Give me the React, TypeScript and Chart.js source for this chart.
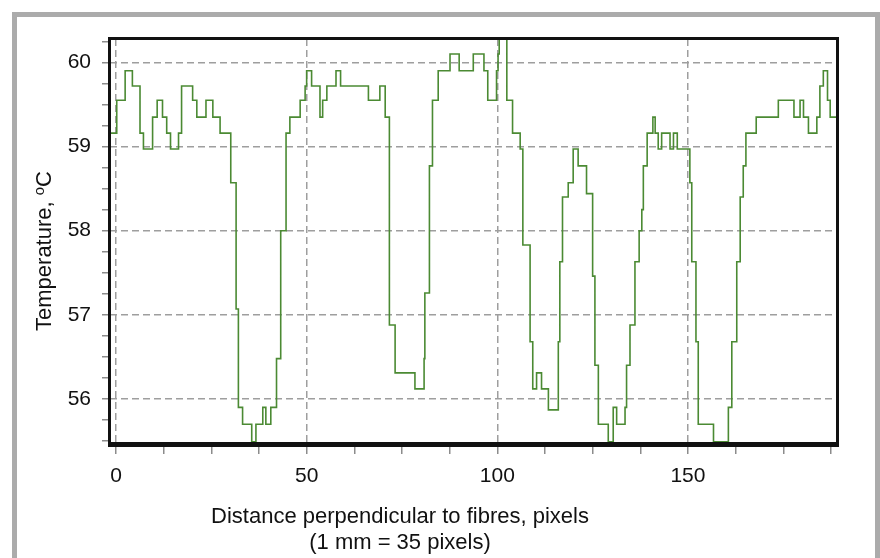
import React, { useEffect, useRef } from 'react';
import { Chart, registerables } from 'chart.js';

Chart.register(...registerables);

// Change points of the stepped temperature profile (distance in pixels, temperature in °C)
const DISTANCE = [
  -1.6, 0.2, 2.4, 4.3, 6.3, 7.2, 9.6, 10.8, 12.2, 13.3, 14.3, 16.4, 17.2, 20.1, 21.2, 23.6, 25.4, 27.3,
  30.1, 31.5, 32.1, 33.2, 35.6, 36.7, 38.5, 39.3, 40.6, 42.1, 43.2, 44.6, 45.6, 48.3, 49.6, 50.0, 51.3,
  53.5, 54.2, 55.3, 57.7, 58.9, 66.2, 69.2, 70.6, 71.7, 73.2, 78.4, 80.8, 81.0, 82.2, 83.0, 84.5, 87.6,
  90.0, 93.7, 96.5, 97.5, 99.8, 100.2, 100.5, 102.5, 104.0, 106.0, 106.7, 108.6, 109.3, 110.3, 111.6,
  113.4, 116.0, 116.4, 117.1, 118.6, 119.9, 121.2, 123.4, 125.0, 125.6, 126.5, 129.1, 130.4, 131.3,
  133.5, 133.9, 134.8, 136.1, 137.2, 137.9, 138.3, 139.3, 140.8, 141.4, 142.2, 143.1, 145.3, 146.2,
  147.2, 150.5, 151.0, 152.1, 152.7, 156.7, 160.6, 161.5, 162.8, 163.7, 164.5, 165.2, 167.9, 173.7,
  177.8, 179.4, 180.3, 181.6, 183.8, 184.6, 185.5, 186.6, 187.3, 189.4,
];
const TEMPERATURE = [
  59.16, 59.55, 59.9, 59.72, 59.16, 58.97, 59.35, 59.55, 59.35, 59.16, 58.97, 59.16, 59.72, 59.55, 59.35, 59.55, 59.35, 59.16,
  58.57, 57.07, 55.9, 55.7, 55.49, 55.7, 55.9, 55.7, 55.9, 56.48, 58.0, 59.16, 59.35, 59.55, 59.72, 59.9, 59.72,
  59.35, 59.55, 59.72, 59.9, 59.72, 59.55, 59.72, 59.35, 56.88, 56.31, 56.12, 56.48, 57.26, 58.77, 59.55, 59.9, 60.1,
  59.9, 60.1, 59.9, 59.55, 59.9, 60.1, 60.28, 59.55, 59.16, 58.97, 57.83, 56.68, 56.12, 56.31, 56.12,
  55.87, 56.68, 57.63, 58.4, 58.57, 58.97, 58.77, 58.44, 57.46, 56.4, 55.7, 55.49, 55.9, 55.7,
  55.9, 56.4, 56.88, 57.63, 58.0, 58.25, 58.77, 59.16, 59.35, 59.16, 58.97, 59.16, 58.97, 59.16,
  58.97, 58.57, 57.63, 56.68, 55.7, 55.49, 55.9, 56.68, 57.63, 58.4, 58.77, 59.16, 59.35, 59.55,
  59.35, 59.55, 59.35, 59.16, 59.35, 59.72, 59.9, 59.55, 59.35, 59.35,
];

const X_TICKS = [0, 12.5, 25, 37.5, 50, 62.5, 75, 87.5, 100, 112.5, 125, 137.5, 150, 162.5, 175, 187.5];
const X_LABELED = [0, 50, 100, 150];
const Y_TICKS = [55.5, 55.75, 56, 56.25, 56.5, 56.75, 57, 57.25, 57.5, 57.75, 58, 58.25, 58.5, 58.75, 59, 59.25, 59.5, 59.75, 60, 60.25];
const Y_LABELED = [56, 57, 58, 59, 60];
const X_MIN = -1.57;
const X_MAX = 189.35;
const Y_MIN = 55.465;
const Y_MAX = 60.278;

const X_TITLE = ['Distance perpendicular to fibres, pixels', '(1 mm = 35 pixels)'];
const Y_TITLE = 'Temperature, ';
const Y_TITLE_SUP = 'o';
const Y_TITLE_UNIT = 'C';

const FONT = '"Liberation Sans", Arial, Helvetica, sans-serif';
const GREEN = '#4b8a33';
const GRID = '#9e9e9e';

const decorPlugin = {
  id: 'decor',
  beforeDraw(chart: any) {
    const { ctx, width, height } = chart;
    ctx.save();
    ctx.fillStyle = '#ffffff';
    ctx.fillRect(0, 0, width, height);
    ctx.strokeStyle = '#ababab';
    ctx.lineWidth = 5;
    ctx.strokeRect(14.5, 14.5, 863, 600);
    ctx.restore();
  },
  afterDraw(chart: any) {
    const { ctx, chartArea: a } = chart;
    ctx.save();
    ctx.fillStyle = '#111111';
    const w = a.right - a.left;
    const h = a.bottom - a.top;
    ctx.fillRect(a.left - 2, a.top - 2, w + 3, 3);
    ctx.fillRect(a.left - 2, a.top - 2, 3, h + 4);
    ctx.fillRect(a.right - 2, a.top - 2, 3, h + 4);
    ctx.fillRect(a.left - 2, a.bottom - 2, w + 3, 5);

    // x-axis title
    ctx.fillStyle = '#111111';
    ctx.font = `22px ${FONT}`;
    ctx.textAlign = 'center';
    ctx.textBaseline = 'middle';
    ctx.fillText(X_TITLE[0], 400, 517);
    ctx.fillText(X_TITLE[1], 400, 543);

    // y-axis title with superscript
    ctx.translate(43, 251);
    ctx.rotate(-Math.PI / 2);
    ctx.textAlign = 'left';
    ctx.textBaseline = 'alphabetic';
    ctx.font = `22px ${FONT}`;
    const w1 = ctx.measureText(Y_TITLE).width;
    const w3 = ctx.measureText(Y_TITLE_UNIT).width;
    ctx.font = `15px ${FONT}`;
    const w2 = ctx.measureText(Y_TITLE_SUP).width;
    const start = -(w1 + w2 + w3) / 2;
    ctx.font = `22px ${FONT}`;
    ctx.fillText(Y_TITLE, start, 8);
    ctx.font = `15px ${FONT}`;
    ctx.fillText(Y_TITLE_SUP, start + w1, 1);
    ctx.font = `22px ${FONT}`;
    ctx.fillText(Y_TITLE_UNIT, start + w1 + w2, 8);
    ctx.restore();
  },
};

export default function App() {
  const ref = useRef<HTMLCanvasElement>(null);
  useEffect(() => {
    const canvas = ref.current;
    if (!canvas) return;
    Chart.defaults.font.family = FONT;
    const chart = new Chart(canvas, {
      type: 'line',
      data: {
        datasets: [
          {
            data: DISTANCE.map((x, i) => ({ x, y: TEMPERATURE[i] })),
            borderColor: GREEN,
            borderWidth: 1.6,
            stepped: 'before',
            pointRadius: 0,
            fill: false,
          },
        ],
      },
      options: {
        responsive: false,
        animation: false,
        devicePixelRatio: 1,
        layout: { padding: { left: 0, top: 39, right: 42, bottom: 0 } },
        plugins: {
          legend: { display: false },
          tooltip: { enabled: false },
          title: { display: false },
        },
        scales: {
          x: {
            type: 'linear',
            min: X_MIN,
            max: X_MAX,
            afterBuildTicks: (s: any) => {
              s.ticks = X_TICKS.map((v) => ({ value: v }));
            },
            afterFit: (s: any) => {
              s.height = 114;
            },
            ticks: {
              autoSkip: false,
              maxRotation: 0,
              padding: 10,
              color: '#111111',
              font: { size: 21 },
              callback: (v: any) => (X_LABELED.includes(v) ? String(v) : ''),
            },
            grid: {
              color: (c: any) => (c.tick && X_LABELED.includes(c.tick.value) ? GRID : 'rgba(0,0,0,0)'),
              lineWidth: 1.5,
              tickColor: '#8c8c8c',
              tickLength: 10,
              tickWidth: 1.5,
            },
            border: { display: false, dash: [7, 4] },
          },
          y: {
            type: 'linear',
            min: Y_MIN,
            max: Y_MAX,
            afterBuildTicks: (s: any) => {
              s.ticks = Y_TICKS.map((v) => ({ value: v }));
            },
            afterFit: (s: any) => {
              s.width = 110;
            },
            ticks: {
              autoSkip: false,
              padding: 11,
              color: '#111111',
              font: { size: 21 },
              callback: (v: any) => (Y_LABELED.includes(v) ? String(v) : ''),
            },
            grid: {
              color: (c: any) => (c.tick && Y_LABELED.includes(c.tick.value) ? GRID : 'rgba(0,0,0,0)'),
              lineWidth: 1.5,
              tickColor: '#8c8c8c',
              tickLength: 8,
              tickWidth: 1.5,
            },
            border: { display: false, dash: [7, 4] },
          },
        },
      },
      plugins: [decorPlugin],
    } as any);
    return () => chart.destroy();
  }, []);
  return (
    <div style={{ position: 'fixed', left: 0, top: 0, width: 880, height: 558, background: '#fff' }}>
      <canvas ref={ref} width={880} height={558} style={{ display: 'block' }} />
    </div>
  );
}
